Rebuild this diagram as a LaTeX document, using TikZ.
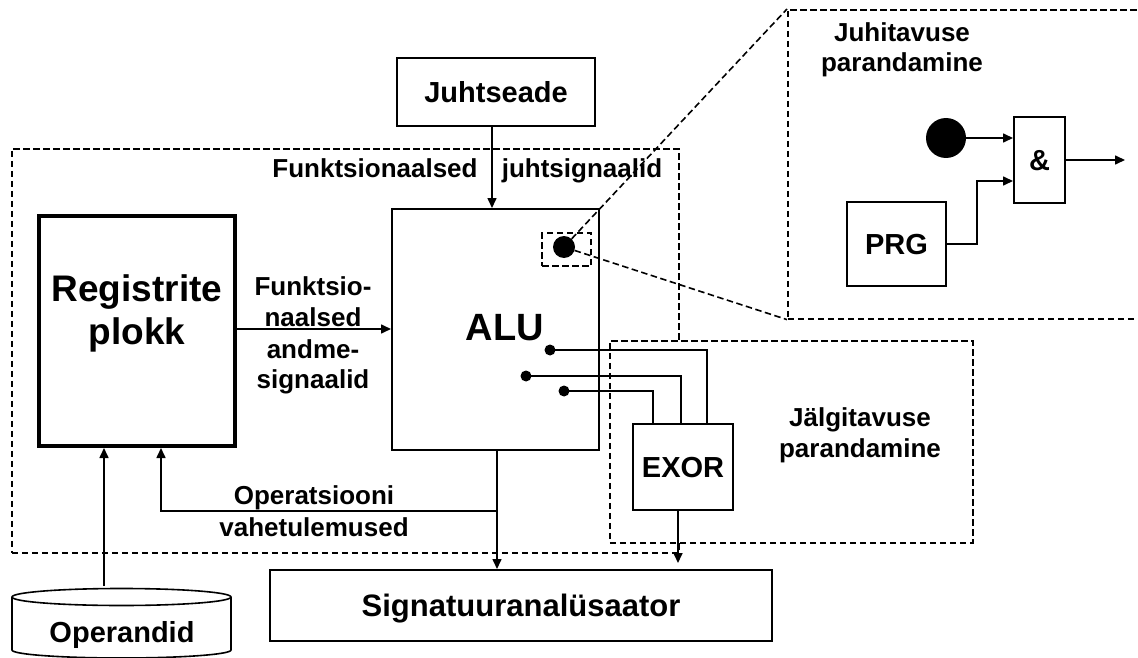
\documentclass[tikz,border=0pt]{standalone}
\usepackage{fontspec}
\setmainfont{Liberation Sans}
\usetikzlibrary{arrows.meta}
\begin{document}
\begin{tikzpicture}[x=1pt,y=-1pt,
  box/.style={draw,line width=2pt,fill=white,inner sep=0pt,align=center},
  bigfont/.style={font=\fontsize{37}{43}\selectfont\bfseries,text height=26.5pt,text depth=0pt},
  midfont/.style={font=\fontsize{29}{33}\selectfont\bfseries,text height=20.8pt,text depth=0pt},
  sigfont/.style={font=\fontsize{31}{35}\selectfont\bfseries,text height=22.2pt,text depth=0pt},
  lbl/.style={font=\fontsize{26}{30}\selectfont\bfseries,anchor=base,inner sep=0pt},
  wire/.style={line width=1.6pt},
  arr/.style={wire,-{Triangle[length=10pt,width=9pt]}},
  dashbox/.style={draw,line width=1.6pt,dash pattern=on 6.5pt off 3.5pt},
  dashline/.style={line width=1.6pt,dash pattern=on 6.5pt off 3.5pt},
  dot/.style={circle,fill=black,inner sep=0pt,minimum size=11pt}
]
\useasboundingbox (0,0) rectangle (1138,658);
\clip (0,0) rectangle (1138,658);
\fill[white] (0,0) rectangle (1138,658);

% functional area and testability area
\node[dashbox,minimum width=667pt,minimum height=404pt,anchor=north west] (func) at (11,148) {};
\node[dashbox,fill=white,minimum width=363pt,minimum height=202pt,anchor=north west] (jlg) at (609,340) {};
% controllability area
\node[dashbox,minimum width=380pt,minimum height=309pt,anchor=north west] (jht) at (787,9) {};

% main blocks
\node[box,midfont,minimum width=198pt,minimum height=68pt] (jsd) at (496,92) {Juhtseade};
\node[box,bigfont,line width=4pt,minimum width=196pt,minimum height=230pt] (reg) at (137,331) {Registrite\\plokk};
\node[box,minimum width=207pt,minimum height=241pt] (alu) at (495.5,329.5) {};
\node[font=\fontsize{38}{40}\selectfont\bfseries,anchor=base,inner sep=0pt] (alut) at (505,340) {ALU};
\node[box,midfont,minimum width=100pt,minimum height=86pt] (exor) at (683,467) {EXOR};
\node[box,sigfont,minimum width=502pt,minimum height=71pt] (sig) at (521,605.5) {Signatuuranalüsaator};

% operand store
\draw[line width=1.6pt,fill=white] (12,597) -- (12,650) arc[start angle=180,end angle=360,x radius=109.5pt,y radius=8pt]
  -- (231,597);
\draw[line width=1.6pt,fill=white] (121.5,597) ellipse[x radius=109.5pt,y radius=8.5pt];
\node[lbl,font=\fontsize{29}{33}\selectfont\bfseries] (opd) at (122,642) {Operandid};
\coordinate (opdtop) at (104,586);

% signal labels
\node[lbl] (fs1) at (375,178) {Funktsionaalsed};
\node[lbl] (fs2) at (582,178) {juhtsignaalid};
\node[lbl] (fa1) at (313,295) {Funktsio-};
\node[lbl] (fa2) at (313,326) {naalsed};
\node[lbl] (fa3) at (313,358) {andme-};
\node[lbl] (fa4) at (313,388) {signaalid};
\node[lbl] (op1) at (314,504) {Operatsiooni};
\node[lbl] (op2) at (314,536) {vahetulemused};
\node[lbl] (jl1) at (860,426) {Jälgitavuse};
\node[lbl] (jl2) at (860,457) {parandamine};
\node[lbl] (jh1) at (902,42) {Juhitavuse};
\node[lbl] (jh2) at (902,72) {parandamine};

% connections of the functional part
\draw[arr] ([xshift=-4pt]jsd.south) -- ([xshift=-4pt]jsd.south |- alu.north);
\draw[arr] ([yshift=2pt]reg.east) -- ([yshift=2pt]reg.east -| alu.west);
\draw[arr] ([xshift=1.5pt]alu.south) -- ([xshift=1.5pt]alu.south |- sig.north);
\coordinate (fb) at (497,511);
\draw[arr] (fb) -| ([xshift=24pt]reg.south);
\draw[arr] (opdtop) -- (opdtop |- reg.south);

% observation points and EXOR
\node[dot] (d1) at (550,350) {};
\node[dot] (d2) at (526,376) {};
\node[dot] (d3) at (564,391) {};
\draw[wire] (d1.center) -| ([xshift=24pt]exor.north);
\draw[wire] (d2.center) -| ([xshift=-2pt]exor.north);
\draw[wire] (d3.center) -| ([xshift=-30pt]exor.north);
\coordinate (exend) at (678,563);
\draw[arr] (exor.south -| exend) -- (exend);

% control point and its magnified view
\node[dashbox,minimum width=49pt,minimum height=33pt] (zbox) at (566.5,249.5) {};
\node[dot,minimum size=22pt] (zdot) at (564,247) {};
\draw[dashline] (zdot) -- (jht.north west);
\draw[dashline] (zdot) -- (jht.south west);

\node[circle,fill=black,inner sep=0pt,minimum size=40pt] (bdot) at (946,138) {};
\node[box,midfont,minimum width=51pt,minimum height=86pt] (and) at (1039.5,160) {\&};
\node[box,midfont,minimum width=99pt,minimum height=84pt] (prg) at (896.5,244) {PRG};
\draw[arr] (bdot.east) -- (bdot.east -| and.west);
\draw[arr] (prg.east) -- ++(30,0) |- ([yshift=-21pt]and.west);
\draw[arr] (and.east) -- ++(59,0);
\end{tikzpicture}
\end{document}
